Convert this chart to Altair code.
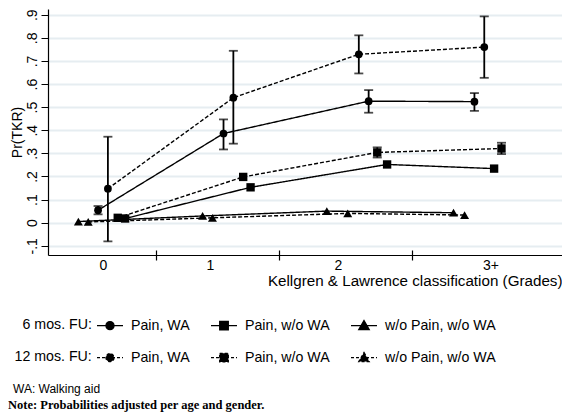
import altair as alt
import pandas as pd

# ---------------- data ----------------
FU6, FU12 = "6 mos. FU", "12 mos. FU"
groups = ["Pain, WA", "Pain, w/o WA", "w/o Pain, w/o WA"]

# x positions are in "grade" units (jittered around each K&L grade)
grade_label_pos = [0.0, 0.87, 1.91, 3.15]
grade_labels = ["0", "1", "2", "3+"]
grade_boundaries = [0.43, 1.43, 2.51]
y_ticks = [-0.1, 0.0, 0.1, 0.2, 0.3, 0.4, 0.5, 0.6, 0.7, 0.8, 0.9]
y_tick_labels = ["-.1", "0", ".1", ".2", ".3", ".4", ".5", ".6", ".7", ".8", ".9"]

# 6 months follow-up
x6_wa = [-0.04, 0.98, 2.16, 3.02]
y6_wa = [0.054, 0.386, 0.526, 0.524]
lo6_wa = [0.036, 0.317, 0.476, 0.484]
hi6_wa = [0.072, 0.447, 0.574, 0.561]

x6_nowa = [0.18, 1.20, 2.31, 3.18]
y6_nowa = [0.018, 0.153, 0.252, 0.234]

x6_nopain = [-0.20, 0.81, 1.82, 2.85]
y6_nopain = [0.005, 0.029, 0.050, 0.043]

# 12 months follow-up
x12_wa = [0.04, 1.06, 2.08, 3.10]
y12_wa = [0.147, 0.541, 0.729, 0.760]
lo12_wa = [-0.081, 0.342, 0.646, 0.627]
hi12_wa = [0.372, 0.744, 0.811, 0.893]

x12_nowa = [0.12, 1.14, 2.23, 3.24]
y12_nowa = [0.021, 0.198, 0.304, 0.321]
lo12_nowa = [None, None, 0.282, 0.297]
hi12_nowa = [None, None, 0.326, 0.346]

x12_nopain = [-0.12, 0.89, 1.99, 2.94]
y12_nopain = [0.003, 0.021, 0.040, 0.033]

x_title = "Kellgren & Lawrence classification (Grades)"
y_title = "Pr(TKR)"
note_wa = "WA: Walking aid"
note_adj = "Note: Probabilities adjusted per age and gender."

# ---------------- tables ----------------
series = [
    (FU6, groups[0], x6_wa, y6_wa, lo6_wa, hi6_wa),
    (FU6, groups[1], x6_nowa, y6_nowa, None, None),
    (FU6, groups[2], x6_nopain, y6_nopain, None, None),
    (FU12, groups[0], x12_wa, y12_wa, lo12_wa, hi12_wa),
    (FU12, groups[1], x12_nowa, y12_nowa, lo12_nowa, hi12_nowa),
    (FU12, groups[2], x12_nopain, y12_nopain, None, None),
]
rows, ci_rows, cap_rows = [], [], []
for fu, grp, xs, ys, los, his in series:
    for i, (xv, yv) in enumerate(zip(xs, ys)):
        rows.append({"fu": fu, "group": grp, "key": fu + grp, "x": xv, "y": yv})
        if los is not None and los[i] is not None:
            ci_rows.append({"x": xv, "y": los[i], "hi": his[i]})
            cap_rows.append({"x": xv, "y": los[i]})
            cap_rows.append({"x": xv, "y": his[i]})
df = pd.DataFrame(rows)
ci = pd.DataFrame(ci_rows)
caps = pd.DataFrame(cap_rows)
notes = pd.DataFrame({"t": [note_wa]})
notes2 = pd.DataFrame({"t": [note_adj]})

FONT = "Liberation Sans"
xscale = alt.Scale(domain=[-0.447, 3.732], nice=False, zero=False)
yscale = alt.Scale(domain=[-0.14, 0.925], nice=False, zero=False)


def lookup_expr(vals, labs):
    return " : ".join(
        f"abs(datum.value - ({v})) < 0.001 ? '{l}'" for v, l in zip(vals, labs)
    ) + " : ''"


x_main_axis = alt.Axis(
    values=grade_label_pos, labelExpr=lookup_expr(grade_label_pos, grade_labels),
    ticks=False, tickSize=0, grid=False, domainColor="black", domainWidth=1.2, labelPadding=3,
    labelFont=FONT, labelFontSize=14, labelColor="black",
    title=x_title, titleFont=FONT, titleFontSize=15.2, titleFontWeight="normal",
    titleColor="black", titleAnchor="end", titlePadding=1, orient="bottom",
)
x_tick_axis = alt.Axis(
    values=grade_boundaries, labels=False, domain=False, grid=False, ticks=True,
    tickSize=10, offset=-5, tickColor="black", tickWidth=1.2, title=None, orient="bottom",
)
y_axis = alt.Axis(
    values=y_ticks, labelExpr=lookup_expr(y_ticks, y_tick_labels), labelAngle=270,
    labelAlign="center", labelBaseline="bottom", labelPadding=2, tickSize=7, tickColor="black",
    domainColor="black", domainWidth=1.2, grid=True, gridColor="#e6edf1", gridWidth=2,
    labelFont=FONT, labelFontSize=14, labelColor="black",
    title=y_title, titleFont=FONT, titleFontSize=14, titleFontWeight="normal",
    titleColor="black", titlePadding=1, orient="left",
)


def X(ax=None):
    return alt.X("x:Q", scale=xscale, axis=ax)


def Y():
    return alt.Y("y:Q", scale=yscale, axis=y_axis)


lines = alt.Chart(df).mark_line(color="black", strokeWidth=1.4).encode(
    x=X(x_main_axis), y=Y(),
    detail="key:N",
    order="x:Q",
    strokeDash=alt.StrokeDash("fu:N", scale=alt.Scale(domain=[FU6, FU12], range=[[1, 0], [4, 2]]),
                              legend=None),
)

points = alt.Chart(df).mark_point(filled=True, color="black", opacity=1).encode(
    x=X(), y=Y(),
    shape=alt.Shape("group:N", scale=alt.Scale(domain=groups, range=["circle", "square", "triangle-up"]),
                    legend=None),
    size=alt.Size("group:N", scale=alt.Scale(domain=groups, range=[60, 80, 65]), legend=None),
)

bars = alt.Chart(ci).mark_rule(color="black", strokeWidth=1.8).encode(
    x=X(x_tick_axis), y=Y(), y2="hi:Q",
)
cap_marks = alt.Chart(caps).mark_tick(color="black", thickness=1.8, size=9, orient="horizontal").encode(
    x=X(), y=Y(),
)

circle_path = "M-2,0H2M0.62,0A0.62,0.62,0,1,1,-0.62,0A0.62,0.62,0,1,1,0.62,0Z"
square_path = "M-2,0H2M-0.66,-0.66H0.66V0.66H-0.66Z"
tri_path = "M-2,0H2M0,-0.78L0.8,0.6H-0.8Z"
sym_paths = [circle_path, square_path, tri_path]


def legend_layer(fu, lx, ly, tpad, dash):
    kw = dict(
        title=fu + ":", orient="none", legendX=lx, legendY=ly, direction="horizontal",
        titleOrient="left", titleFont=FONT, titleFontSize=14.2, titleFontWeight="normal",
        titleColor="black", titlePadding=tpad, titleBaseline="middle",
        labelFont=FONT, labelFontSize=14.2, labelColor="black", labelOffset=13.5,
        columnPadding=17, symbolSize=169, symbolStrokeWidth=1.3, symbolOpacity=1,
    )
    mk = dict(filled=True, color="black", fill="black", stroke="black", strokeWidth=1.3, opacity=0)
    if dash:
        kw["symbolDash"] = dash
        mk["strokeDash"] = dash
    return alt.Chart(df[df.fu == fu]).mark_point(**mk).encode(
        x=X(), y=Y(),
        shape=alt.Shape("group:N", scale=alt.Scale(domain=groups, range=sym_paths),
                        legend=alt.Legend(**kw)),
    )


leg6 = legend_layer(FU6, -25.5, 309, 10, None)
leg12 = legend_layer(FU12, -33.5, 341, 10, [3, 2])

t1 = alt.Chart(notes).mark_text(align="left", baseline="middle", font=FONT, fontSize=12,
                                color="black").encode(text="t:N", x=alt.value(-35), y=alt.value(380))
t2 = alt.Chart(notes2).mark_text(align="left", baseline="middle", font="Liberation Serif",
                                 fontSize=12.5, fontWeight="bold", color="black").encode(
    text="t:N", x=alt.value(-40), y=alt.value(396))

chart = alt.layer(lines, bars, cap_marks, points, leg6, leg12, t1, t2).resolve_scale(
    shape="independent", size="independent"
).resolve_axis(x="independent").resolve_legend(shape="independent").properties(
    width=514, height=246, padding=0, background="white"
).configure_view(stroke=None)

chart.save("out.html", embed_options={"renderer": "svg", "actions": False})
